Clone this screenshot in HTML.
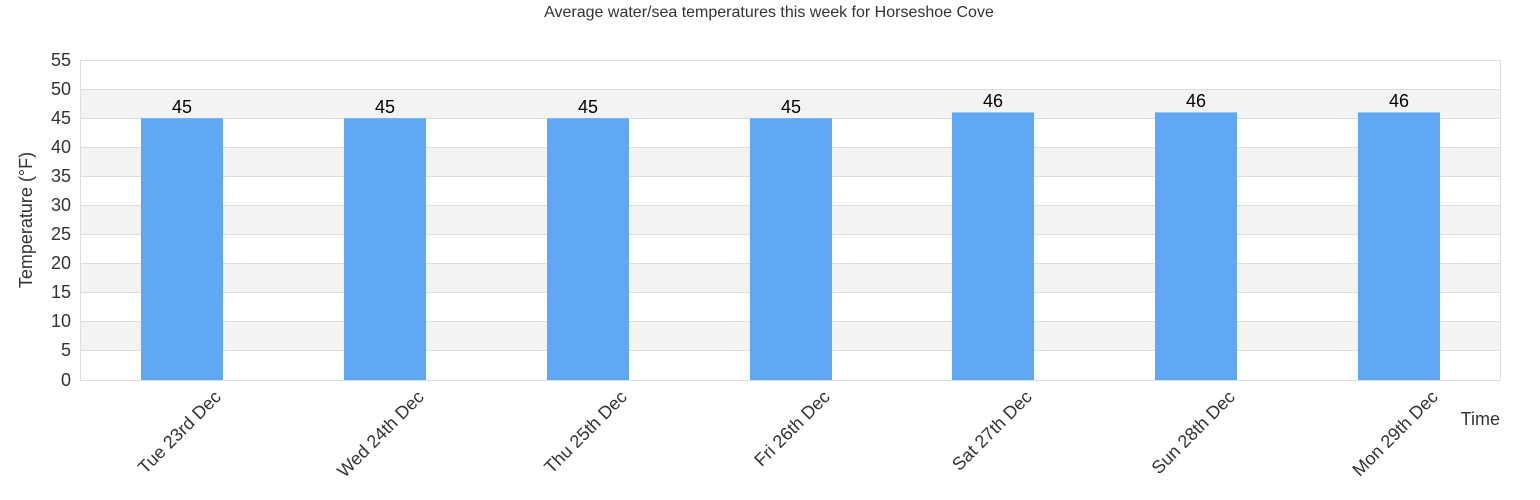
<!DOCTYPE html>
<html><head><meta charset="utf-8"><style>body{margin:0;background:#fff}svg{display:block;font-family:"Liberation Sans",Arial,sans-serif}</style></head><body>
<svg width="1540" height="500" viewBox="0 0 1540 500">
<text x="769" y="17" text-anchor="middle" font-size="16" fill="#333">Average water/sea temperatures this week for Horseshoe Cove</text>
<g fill="#f3f3f3">
<rect x="80" y="89.1" width="1420" height="29.1"/>
<rect x="80" y="147.3" width="1420" height="29.1"/>
<rect x="80" y="205.5" width="1420" height="29.1"/>
<rect x="80" y="263.6" width="1420" height="29.1"/>
<rect x="80" y="321.8" width="1420" height="29.1"/>
</g>
<g stroke="#dddddd" stroke-width="1">
<line x1="80" x2="1500" y1="60.5" y2="60.5"/><line x1="80" x2="1500" y1="89.5" y2="89.5"/><line x1="80" x2="1500" y1="118.5" y2="118.5"/><line x1="80" x2="1500" y1="147.5" y2="147.5"/><line x1="80" x2="1500" y1="176.5" y2="176.5"/><line x1="80" x2="1500" y1="205.5" y2="205.5"/><line x1="80" x2="1500" y1="234.5" y2="234.5"/><line x1="80" x2="1500" y1="263.5" y2="263.5"/><line x1="80" x2="1500" y1="292.5" y2="292.5"/><line x1="80" x2="1500" y1="321.5" y2="321.5"/><line x1="80" x2="1500" y1="350.5" y2="350.5"/><line x1="80" x2="1500" y1="380.5" y2="380.5"/>
<line x1="80.5" x2="80.5" y1="60" y2="380"/><line x1="1500.5" x2="1500.5" y1="60" y2="380"/>
</g>
<g font-size="18" fill="#333" text-anchor="end">
<text x="71" y="66">55</text><text x="71" y="95">50</text><text x="71" y="124">45</text><text x="71" y="153">40</text><text x="71" y="182">35</text><text x="71" y="211">30</text><text x="71" y="240">25</text><text x="71" y="269">20</text><text x="71" y="298">15</text><text x="71" y="327">10</text><text x="71" y="356">5</text><text x="71" y="386">0</text>
</g>
<text transform="translate(32,220) rotate(-90)" text-anchor="middle" font-size="18" fill="#333">Temperature (°F)</text>
<text x="1500" y="425" text-anchor="end" font-size="18" fill="#333">Time</text>
<g fill="#60a8f4">
<rect x="141" y="118.2" width="82" height="261.8"/>
<rect x="344" y="118.2" width="82" height="261.8"/>
<rect x="547" y="118.2" width="82" height="261.8"/>
<rect x="750" y="118.2" width="82" height="261.8"/>
<rect x="952" y="112.4" width="82" height="267.6"/>
<rect x="1155" y="112.4" width="82" height="267.6"/>
<rect x="1358" y="112.4" width="82" height="267.6"/>
</g>
<g font-size="18" fill="#000" text-anchor="middle">
<text x="182" y="113">45</text><text x="385" y="113">45</text><text x="588" y="113">45</text><text x="791" y="113">45</text><text x="993" y="107">46</text><text x="1196" y="107">46</text><text x="1399" y="107">46</text>
</g>
<g font-size="18" fill="#333" text-anchor="end">
<text transform="translate(222,398) rotate(-45)">Tue 23rd Dec</text>
<text transform="translate(425,398) rotate(-45)">Wed 24th Dec</text>
<text transform="translate(628,398) rotate(-45)">Thu 25th Dec</text>
<text transform="translate(831,398) rotate(-45)">Fri 26th Dec</text>
<text transform="translate(1033,398) rotate(-45)">Sat 27th Dec</text>
<text transform="translate(1236,398) rotate(-45)">Sun 28th Dec</text>
<text transform="translate(1439,398) rotate(-45)">Mon 29th Dec</text>
</g>
</svg>
</body></html>
